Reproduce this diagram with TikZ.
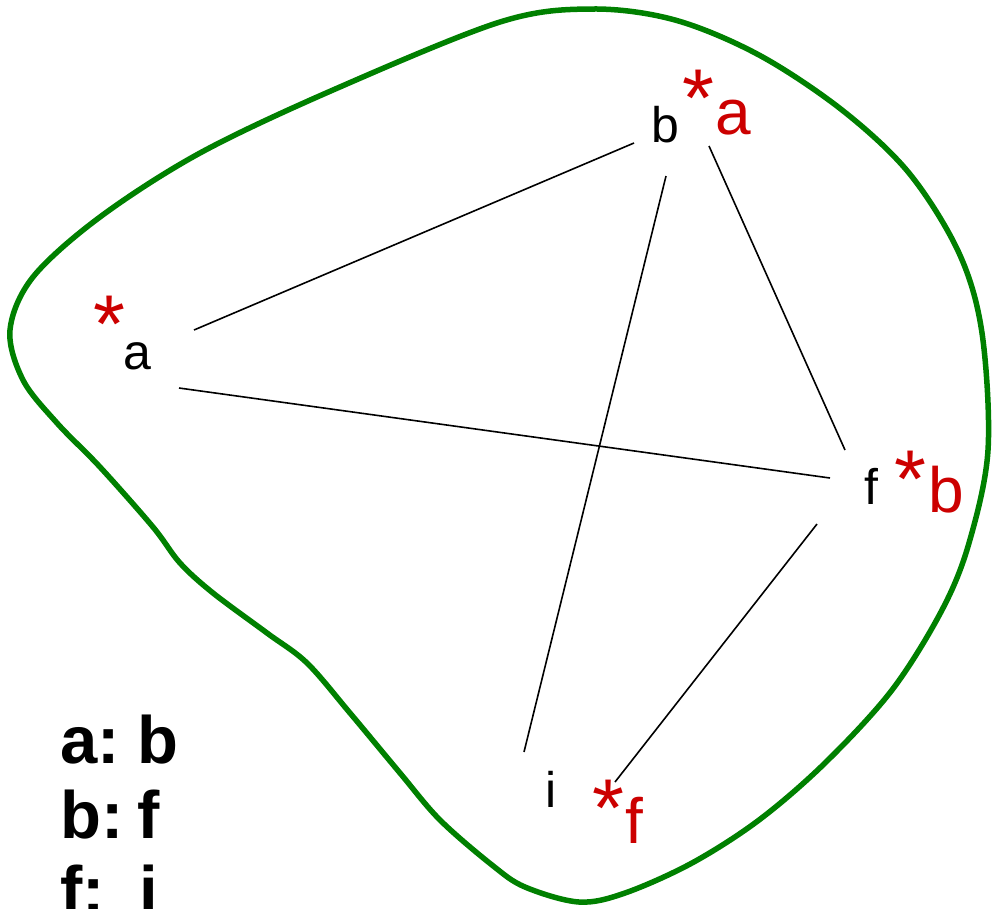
\documentclass[tikz,border=0pt]{standalone}
\usepackage{fontspec}
\setmainfont{Liberation Sans}
\usetikzlibrary{calc}
\definecolor{blobgreen}{RGB}{0,128,0}
\definecolor{starred}{RGB}{204,0,0}
\tikzset{
  vlabel/.style={inner sep=0pt, anchor=base, font=\fontsize{50}{56}\selectfont},
  redlabel/.style={inner sep=0pt, anchor=base, text=starred, font=\fontsize{64}{70}\selectfont},
  star/.style={inner sep=0pt, anchor=north, text=starred, font=\fontsize{82}{90}\selectfont},
  edge/.style={line width=1.6pt, black},
  blob/.style={line width=5.5pt, blobgreen},
  legendline/.style={inner sep=0pt, anchor=base west, font=\fontsize{67}{75}\selectfont\bfseries}
}
\newcommand{\lgkey}[1]{\makebox[77pt][l]{#1}}
\begin{document}
\begin{tikzpicture}[x=1pt,y=-1pt]
\useasboundingbox (0,0) rectangle (992,908);
% region outline
\draw[blob] plot[smooth cycle, tension=0.55] coordinates {
 (592,9) (675,20) (759,55) (842,110) (909,173) (959,253) (982,333) (988,450)
 (969,543) (942,610) (892,690) (825,763) (759,820) (692,863) (625,893)
 (579,902) (525,887) (492,865) (440,820) (400,773) (350,713) (307,663)
 (267,633) (213,593) (180,563) (153,527) (100,467) (57,423) (23,380)
 (10,330) (33,277) (100,217) (200,153) (333,90) (500,22)};
% vertex labels
\node[vlabel] (a) at (137,369) {a};
\node[vlabel] (b) at (665,142) {b};
\node[vlabel] (f) at (871,504) {f};
\node[vlabel] (i) at (551,807) {i};
% red annotations
\node[star] (sa) at (109,296) {*};
\node[star] (sb) at (698,70) {*};
\node[redlabel] (rb) at (733,134) {a};
\node[star] (sf) at (910,451) {*};
\node[redlabel] (rf) at (946,512) {b};
\node[star] (si) at (608,780) {*};
\node[redlabel] (ri) at (634,843) {f};
% edges
\draw[edge] ($(b.base)+(-31,1)$) -- ($(a.base)+(57,-39)$);
\draw[edge] ($(a.base)+(42,19)$) -- ($(f.base)+(-41,-26)$);
\draw[edge] ($(b.base)+(1,34)$) -- ($(i.base)+(-27,-55)$);
\draw[edge] ($(b.base)+(44,4)$) -- ($(f.base)+(-26,-54)$);
\draw[edge] ($(f.base)+(-54,20)$) -- ($(i.base)+(64,-25)$);
% legend
\node[legendline] (l1) at (60,763) {\lgkey{a:}b};
\node[legendline] (l2) at (60,838) {\lgkey{b:}f};
\node[legendline] (l3) at (60,913) {\lgkey{f:}\kern2pt i};
\end{tikzpicture}
\end{document}
